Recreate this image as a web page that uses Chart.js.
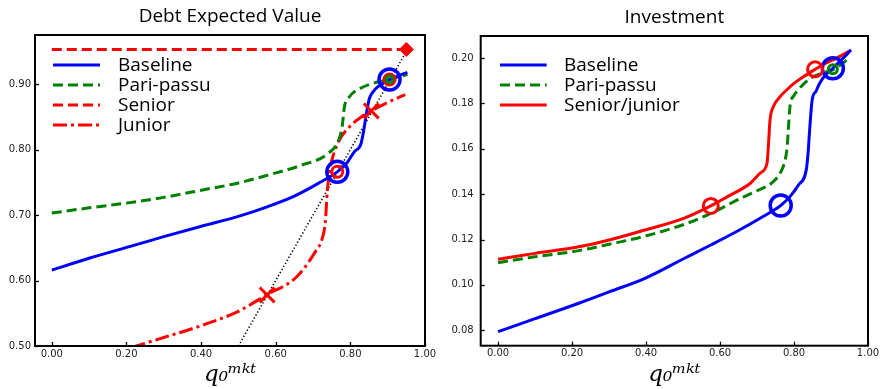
<!DOCTYPE html>
<html><head><meta charset="utf-8">
<script src="https://cdn.jsdelivr.net/npm/chart.js@4.4.1/dist/chart.umd.min.js"></script>
<style>
html,body{margin:0;padding:0;background:#fff;overflow:hidden;}
#l{position:absolute;left:0;top:0;width:440px;height:389px;}
#r{position:absolute;left:440px;top:0;width:442px;height:389px;}
</style></head><body>
<div id="l"><canvas id="c1"></canvas></div>
<div id="r"><canvas id="c2"></canvas></div>
<script>
// ---------- shared tick labels ----------
const xTicks = [0.0, 0.2, 0.4, 0.6, 0.8, 1.0];
const debtTicks = [0.5, 0.6, 0.7, 0.8, 0.9];
const invTicks = [0.08, 0.10, 0.12, 0.14, 0.16, 0.18, 0.20];
const xTitle = 'q\u2080\u1D50\u1D4F\u1D57';

// ---------- Debt Expected Value ----------
const debtBaseX = [0, 0.1, 0.222, 0.3, 0.401, 0.5, 0.579, 0.65, 0.713, 0.765, 0.79, 0.811, 0.828, 0.836, 0.843, 0.851, 0.862, 0.874, 0.89, 0.905, 0.93, 0.953];
const debtBaseY = [0.616, 0.634, 0.654, 0.667, 0.683, 0.698, 0.713, 0.729, 0.748, 0.766, 0.779, 0.797, 0.808, 0.83, 0.855, 0.878, 0.889, 0.896, 0.902, 0.907, 0.913, 0.918];
const debtPariX = [0, 0.1, 0.222, 0.3, 0.401, 0.5, 0.579, 0.668, 0.740, 0.769, 0.778, 0.784, 0.798, 0.825, 0.878, 0.905, 0.953];
const debtPariY = [0.703, 0.711, 0.720, 0.727, 0.738, 0.749, 0.761, 0.776, 0.794, 0.815, 0.835, 0.865, 0.881, 0.893, 0.904, 0.907, 0.915];
const debtSeniorX = [0, 0.95];
const debtSeniorY = [0.953, 0.953];
const debtJuniorX = [0.15, 0.227, 0.30, 0.405, 0.50, 0.575, 0.655, 0.705, 0.726, 0.733, 0.738, 0.744, 0.752, 0.771, 0.798, 0.825, 0.856, 0.90, 0.947];
const debtJuniorY = [0.486, 0.50, 0.513, 0.532, 0.553, 0.578, 0.605, 0.643, 0.667, 0.69, 0.735, 0.765, 0.787, 0.815, 0.835, 0.848, 0.859, 0.872, 0.884];
const diagX = [0.5, 0.95];
const diagY = [0.5, 0.95];
const debtBaseMarkX = [0.765, 0.905];
const debtBaseMarkY = [0.766, 0.907];
const debtSJMarkX = [0.765, 0.905];
const debtSJMarkY = [0.766, 0.907];
const debtPariMarkX = [0.905];
const debtPariMarkY = [0.907];
const debtJuniorMarkX = [0.577, 0.856];
const debtJuniorMarkY = [0.578, 0.859];
const debtSeniorMarkX = [0.95];
const debtSeniorMarkY = [0.953];

// ---------- Investment ----------
const invBaseX = [0, 0.1, 0.218, 0.3, 0.397, 0.5, 0.575, 0.65, 0.72, 0.764, 0.789, 0.812, 0.833, 0.838, 0.841, 0.845, 0.849, 0.86, 0.869, 0.885, 0.905, 0.93, 0.954];
const invBaseY = [0.0794, 0.0851, 0.0919, 0.0969, 0.1029, 0.1114, 0.1176, 0.1240, 0.1305, 0.135, 0.1389, 0.144, 0.1507, 0.158, 0.1653, 0.1745, 0.1815, 0.1855, 0.1888, 0.1925, 0.1955, 0.1995, 0.2035];
const invPariX = [0, 0.1, 0.218, 0.3, 0.397, 0.5, 0.575, 0.655, 0.70, 0.744, 0.765, 0.776, 0.781, 0.784, 0.789, 0.80, 0.811, 0.83, 0.851, 0.88, 0.905, 0.93, 0.952];
const invPariY = [0.1098, 0.1124, 0.1151, 0.1179, 0.1215, 0.1265, 0.1315, 0.1381, 0.1415, 0.1455, 0.150, 0.155, 0.160, 0.1668, 0.1785, 0.1835, 0.1859, 0.1892, 0.1917, 0.1935, 0.1948, 0.1975, 0.2005];
const invSJX = [0, 0.1, 0.218, 0.3, 0.397, 0.5, 0.575, 0.62, 0.682, 0.71, 0.727, 0.731, 0.735, 0.744, 0.76, 0.78, 0.80, 0.825, 0.857, 0.88, 0.905, 0.93, 0.954];
const invSJY = [0.1113, 0.1139, 0.1168, 0.1198, 0.1242, 0.1292, 0.1348, 0.1389, 0.1448, 0.1495, 0.1536, 0.162, 0.1725, 0.1785, 0.1825, 0.1859, 0.1888, 0.1917, 0.195, 0.1972, 0.1992, 0.2013, 0.2035];
const invBaseMarkX = [0.764, 0.905];
const invBaseMarkY = [0.135, 0.1955];
const invPariMarkX = [0.905];
const invPariMarkY = [0.195];
const invSJMarkX = [0.575, 0.857];
const invSJMarkY = [0.1348, 0.195];

const BLUE = '#0000ff', GREEN = '#008000', RED = '#ff0000';

function pts(xs, ys) { return xs.map((x, i) => ({ x: x, y: ys[i] })); }

function lineDs(label, xs, ys, color, dash, width, order) {
  return { label: label, data: pts(xs, ys), borderColor: color, backgroundColor: color,
    borderWidth: width, borderDash: dash, pointRadius: 0, pointHoverRadius: 0,
    cubicInterpolationMode: 'monotone', fill: false, order: order };
}
function markDs(xs, ys, color, style, r, bw, fillCol, order) {
  return { label: '', data: pts(xs, ys), showLine: false, pointStyle: style,
    pointRadius: r, pointHoverRadius: r, pointBorderWidth: bw, pointBorderColor: color,
    pointBackgroundColor: fillCol, borderColor: color, backgroundColor: fillCol, order: order };
}

const frameTicks = {
  id: 'frameTicks',
  afterDraw(chart) {
    const ctx = chart.ctx, a = chart.chartArea;
    const xs = chart.scales.x, ys = chart.scales.y;
    ctx.save();
    ctx.strokeStyle = '#000';
    ctx.lineWidth = 1.3;
    xs.ticks.forEach(t => {
      const px = Math.round(xs.getPixelForValue(t.value)) + 0.5;
      ctx.beginPath(); ctx.moveTo(px, a.bottom); ctx.lineTo(px, a.bottom - 4); ctx.stroke();
    });
    ys.ticks.forEach(t => {
      const py = Math.round(ys.getPixelForValue(t.value)) + 0.5;
      ctx.beginPath(); ctx.moveTo(a.left, py); ctx.lineTo(a.left + 4, py); ctx.stroke();
    });
    ctx.lineWidth = 2;
    ctx.strokeRect(a.left, a.top, a.right - a.left, a.bottom - a.top);
    ctx.restore();
  }
};

const innerLegend = {
  id: 'innerLegend',
  afterDatasetsDraw(chart, args, opts) {
    if (!opts || !opts.items) return;
    const ctx = chart.ctx, a = chart.chartArea;
    ctx.save();
    ctx.font = opts.font;
    ctx.textBaseline = 'middle';
    ctx.textAlign = 'left';
    opts.items.forEach((idx, i) => {
      const ds = chart.data.datasets[idx];
      const y = a.top + opts.top + i * opts.spacing;
      ctx.strokeStyle = ds.borderColor;
      ctx.lineWidth = ds.borderWidth;
      ctx.setLineDash(ds.borderDash || []);
      ctx.beginPath(); ctx.moveTo(a.left + opts.x0, y); ctx.lineTo(a.left + opts.x1, y); ctx.stroke();
      ctx.setLineDash([]);
      ctx.fillStyle = '#000';
      ctx.fillText(ds.label, a.left + opts.tx, y + 1);
    });
    ctx.restore();
  }
};

function makeOptions(cfg) {
  return {
    responsive: true, maintainAspectRatio: false, animation: false,
    layout: { padding: { left: 0, right: cfg.padRight, top: 0, bottom: 0 } },
    plugins: {
      legend: { display: false },
      tooltip: { enabled: false },
      title: { display: true, text: cfg.title, fullSize: false, color: '#000',
        font: { family: 'Open Sans', size: 19, weight: 'normal', lineHeight: 1.2 },
        padding: { top: cfg.titleTop, bottom: cfg.titleBottom } },
      innerLegend: cfg.legend
    },
    scales: {
      x: { type: 'linear', min: cfg.xMin, max: 1.0,
        grid: { display: false, drawTicks: false },
        border: { display: false },
        ticks: { padding: 2, color: '#222', font: { family: 'DejaVu Sans', size: 10 },
          maxRotation: 0, autoSkip: false, callback: v => Number(v).toFixed(2) },
        afterBuildTicks: s => { s.ticks = xTicks.map(v => ({ value: v })); },
        afterFit: s => { s.height = cfg.xHeight; s.paddingLeft = 0; s.paddingRight = 0; },
        title: { display: true, text: xTitle, color: '#000',
          font: { family: 'DejaVu Serif', size: 23, style: 'italic', lineHeight: 1.1 },
          padding: { top: 0, bottom: 1 } } },
      y: { type: 'linear', min: cfg.yMin, max: cfg.yMax,
        grid: { display: false, drawTicks: false },
        border: { display: false },
        ticks: { padding: cfg.yPad, color: '#222', font: { family: 'DejaVu Sans', size: 10 },
          autoSkip: false, callback: v => Number(v).toFixed(2) },
        afterBuildTicks: s => { s.ticks = cfg.yTicks.map(v => ({ value: v })); },
        afterFit: s => { s.width = cfg.yWidth; s.paddingTop = 0; s.paddingBottom = 0; } }
    }
  };
}

new Chart(document.getElementById('c1'), {
  type: 'line',
  data: { datasets: [
    lineDs('Baseline', debtBaseX, debtBaseY, BLUE, [], 3, 10),
    lineDs('Pari-passu', debtPariX, debtPariY, GREEN, [10, 5], 3, 11),
    lineDs('Senior', debtSeniorX, debtSeniorY, RED, [10, 5], 3, 12),
    lineDs('Junior', debtJuniorX, debtJuniorY, RED, [14, 4, 3, 4], 3, 13),
    Object.assign(lineDs('', diagX, diagY, '#000', [1.3, 2.2], 1.6, 14), { cubicInterpolationMode: 'default', tension: 0 }),
    markDs(debtBaseMarkX, debtBaseMarkY, BLUE, 'circle', 10.5, 3.5, 'rgba(0,0,0,0)', 5),
    markDs(debtSJMarkX, debtSJMarkY, RED, 'circle', 5.5, 3, 'rgba(0,0,0,0)', 4),
    markDs(debtPariMarkX, debtPariMarkY, GREEN, 'circle', 3.5, 3, 'rgba(0,0,0,0)', 3),
    markDs(debtJuniorMarkX, debtJuniorMarkY, RED, 'crossRot', 10.5, 3, RED, 2),
    markDs(debtSeniorMarkX, debtSeniorMarkY, RED, 'rectRot', 7, 1, RED, 1)
  ] },
  options: makeOptions({ title: 'Debt Expected Value', padRight: 15, titleTop: 5.5, titleBottom: 6.7,
    xMin: -0.045, xHeight: 43, yMin: 0.5, yMax: 0.975, yTicks: debtTicks, yWidth: 35, yPad: 4,
    legend: { items: [0, 1, 2, 3], font: '19px "Open Sans"', top: 30, spacing: 20, x0: 18, x1: 65, tx: 83 } }),
  plugins: [frameTicks, innerLegend]
});

new Chart(document.getElementById('c2'), {
  type: 'line',
  data: { datasets: [
    lineDs('Baseline', invBaseX, invBaseY, BLUE, [], 3, 10),
    lineDs('Pari-passu', invPariX, invPariY, GREEN, [10, 5], 3, 11),
    lineDs('Senior/junior', invSJX, invSJY, RED, [], 3, 12),
    markDs(invBaseMarkX, invBaseMarkY, BLUE, 'circle', 10.5, 3.5, 'rgba(0,0,0,0)', 5),
    markDs(invSJMarkX, invSJMarkY, RED, 'circle', 7.5, 3, 'rgba(0,0,0,0)', 4),
    markDs(invPariMarkX, invPariMarkY, GREEN, 'circle', 4.5, 3, 'rgba(0,0,0,0)', 3)
  ] },
  options: makeOptions({ title: 'Investment', padRight: 10, titleTop: 6.5, titleBottom: 6.7,
    xMin: -0.047, xHeight: 43.3, yMin: 0.0732, yMax: 0.2097, yTicks: invTicks, yWidth: 40.7, yPad: 7,
    legend: { items: [0, 1, 2], font: '19px "Open Sans"', top: 29, spacing: 20, x0: 19.3, x1: 66, tx: 83.3 } }),
  plugins: [frameTicks, innerLegend]
});
</script>
</body></html>
